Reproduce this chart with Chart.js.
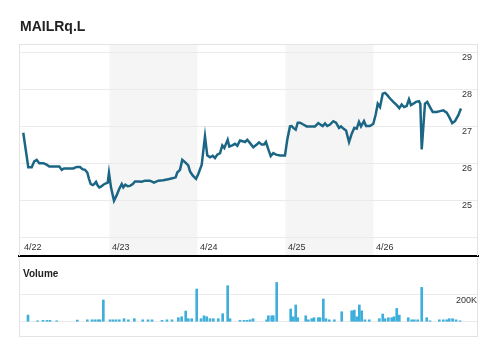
<!DOCTYPE html>
<html>
<head>
<meta charset="utf-8">
<script src="https://cdn.jsdelivr.net/npm/chart.js@4/dist/chart.umd.min.js"></script>
<style>
  html, body { margin: 0; padding: 0; background: #fff; }
  body { width: 498px; height: 353px; position: relative; overflow: hidden; font-family: "Liberation Sans", Arial, sans-serif; }
  #title { position: absolute; left: 20px; top: 19px; font-size: 14px; line-height: 14px; font-weight: bold; color: #222; }
  #vollabel { position: absolute; left: 23px; top: 269px; font-size: 10px; line-height: 10px; font-weight: bold; color: #222; }
  canvas { position: absolute; left: 0; display: block; }
  #price { top: 0; }
  #vol { top: 253px; }
</style>
</head>
<body>
<canvas id="price" width="498" height="260" style="width:498px;height:260px"></canvas>
<canvas id="vol" width="498" height="100" style="width:498px;height:100px"></canvas>
<div id="title">MAILRq.L</div>
<div id="vollabel">Volume</div>
<script>
// ---- Data (x = time in trading days since 4/22 open) ----
const dayLabels = ['4/22', '4/23', '4/24', '4/25', '4/26'];
const shadedDays = [1, 3];
const priceTicks = [24, 25, 26, 27, 28, 29];
const volumeTicks = [0, 200000];

const priceTimes = [0.020,0.077,0.116,0.145,0.173,0.202,0.248,0.286,0.316,0.361,0.430,0.457,0.483,0.551,0.589,0.627,0.665,0.691,0.722,0.748,0.767,0.786,0.809,0.827,0.847,0.866,0.884,0.903,0.930,0.960,0.980,0.994,
1.017,1.051,1.082,1.111,1.139,1.157,1.180,1.207,1.233,1.264,1.290,1.327,1.366,1.403,1.460,1.506,1.555,1.611,1.668,1.725,1.752,1.770,1.801,1.827,1.858,1.895,1.915,1.945,1.983,
2.009,2.048,2.085,2.111,2.142,2.173,2.199,2.225,2.256,2.282,2.305,2.320,2.343,2.361,2.395,2.426,2.452,2.483,2.514,2.540,2.566,2.597,2.634,2.673,2.699,2.730,2.756,2.778,2.805,2.832,2.861,2.892,2.938,2.994,
3.020,3.051,3.070,3.089,3.116,3.139,3.165,3.202,3.241,3.278,3.335,3.373,3.403,3.423,3.449,3.475,3.506,3.543,3.574,3.608,3.631,3.657,3.688,3.722,3.752,3.782,3.809,3.835,3.858,3.892,3.915,3.960,3.998,
4.025,4.048,4.074,4.105,4.131,4.157,4.188,4.225,4.264,4.293,4.320,4.347,4.377,4.403,4.426,4.452,4.483,4.517,4.532,4.548,4.585,4.611,4.642,4.673,4.718,4.756,4.793,4.832,4.861,4.895,4.926,4.964,4.994];

const priceValues = [26.83,25.90,25.90,26.06,26.10,26.01,26.01,25.97,25.92,25.92,25.92,25.83,25.87,25.87,25.87,25.91,25.91,25.85,25.83,25.76,25.59,25.45,25.42,25.45,25.51,25.41,25.36,25.38,25.43,25.47,25.49,25.75,
25.36,25.00,25.15,25.32,25.45,25.36,25.43,25.39,25.40,25.45,25.52,25.52,25.51,25.54,25.54,25.49,25.54,25.55,25.58,25.61,25.63,25.76,25.83,26.10,26.04,25.95,25.79,25.68,25.59,
25.72,25.97,26.73,26.22,26.17,26.21,26.15,26.24,26.28,26.49,26.42,26.51,26.64,26.46,26.49,26.53,26.48,26.62,26.60,26.58,26.64,26.55,26.44,26.51,26.57,26.51,26.51,26.58,26.38,26.20,26.28,26.24,26.22,26.22,
26.64,27.00,27.01,26.96,26.91,27.10,27.10,27.05,27.00,27.00,27.00,27.09,27.04,27.01,27.08,27.01,27.05,27.14,27.10,26.96,27.00,26.94,26.89,26.58,26.80,26.96,26.94,27.12,27.00,27.14,27.01,27.01,27.07,
27.32,27.61,27.52,27.88,27.90,27.84,27.75,27.66,27.57,27.49,27.59,27.52,27.55,27.73,27.57,27.61,27.66,27.68,27.61,26.38,27.61,27.66,27.52,27.39,27.39,27.41,27.43,27.37,27.25,27.09,27.14,27.30,27.48];

const volumeTimes = [0.074,0.184,0.244,0.290,0.324,0.400,0.634,0.748,0.801,0.835,0.869,0.892,0.930,
1.006,1.040,1.074,1.111,1.165,1.214,1.282,1.377,1.438,1.483,1.597,1.653,1.710,1.782,1.820,1.866,1.895,1.934,1.991,
2.040,2.074,2.105,2.142,2.180,2.236,2.286,2.343,2.369,2.483,2.528,2.563,2.597,2.631,2.786,2.805,2.843,2.861,2.900,
3.059,3.089,3.116,3.139,3.230,3.259,3.298,3.324,3.373,3.392,3.430,3.460,3.498,3.555,3.639,3.752,3.782,3.809,3.839,3.866,3.903,3.952,
4.066,4.105,4.131,4.169,4.207,4.233,4.264,4.293,4.395,4.434,4.464,4.502,4.548,4.605,4.642,4.748,4.793,4.832,4.861,4.899,4.938,4.983];

const volumeValues = [48000,7000,10000,10000,10000,7000,12000,14000,14000,14000,14000,14000,157000,
14000,14000,14000,14000,22000,14000,22000,14000,14000,14000,10000,14000,14000,29000,36000,77000,22000,22000,236000,
22000,43000,36000,22000,22000,22000,58000,260000,22000,10000,10000,10000,14000,22000,14000,43000,43000,43000,284000,
92000,36000,121000,29000,43000,14000,22000,29000,29000,29000,164000,22000,14000,14000,72000,79000,84000,36000,121000,79000,14000,14000,
22000,56000,22000,29000,29000,36000,96000,48000,29000,14000,14000,14000,248000,29000,7000,14000,14000,14000,22000,22000,14000,7000];

// ---- Styling ----
const LINE = '#1b6684';
const BAR = '#3eafdb';
const GRID = '#ebebeb';
const FRAME = '#e3e3e3';
const BAND = '#f5f5f5';
const TXT = '#333';
const FONT_FAMILY = '"Liberation Sans", Arial, sans-serif';
const FONT = { family: FONT_FAMILY, size: 9 };
const X_MIN = -0.0284, X_MAX = 5.1875;

const bandsPlugin = {
  id: 'bands',
  beforeDraw(chart) {
    const { ctx, chartArea: a, scales: { x } } = chart;
    ctx.save();
    ctx.fillStyle = BAND;
    shadedDays.forEach(d => {
      const l = x.getPixelForValue(d), r = x.getPixelForValue(d + 1);
      ctx.fillRect(l, a.top, r - l, a.bottom - a.top);
    });
    ctx.restore();
  }
};

// Day labels sit inside the plot, just above the bottom axis line, left-aligned at each day's tick.
const dayLabelPlugin = {
  id: 'dayLabels',
  afterDraw(chart) {
    const { ctx, chartArea: a, scales: { x } } = chart;
    ctx.save();
    ctx.fillStyle = TXT;
    ctx.font = '9px ' + FONT_FAMILY;
    ctx.textAlign = 'left';
    ctx.textBaseline = 'middle';
    x.ticks.forEach(t => {
      ctx.fillText(dayLabels[Math.round(t.value)], x.getPixelForValue(t.value) + 2.5, a.bottom - 8.5);
    });
    ctx.restore();
  }
};

function framePlugin(sides) {
  return {
    id: 'frame',
    afterDraw(chart) {
      const { ctx, chartArea: a } = chart;
      ctx.save();
      ctx.strokeStyle = FRAME;
      ctx.lineWidth = 1;
      ctx.beginPath();
      const L = Math.round(a.left) + 0.5, R = Math.round(a.right) - 0.5, T = Math.round(a.top) + 0.5, B = Math.round(a.bottom) - 0.5;
      if (sides.includes('left')) { ctx.moveTo(L, a.top); ctx.lineTo(L, a.bottom); }
      if (sides.includes('right')) { ctx.moveTo(R, a.top); ctx.lineTo(R, a.bottom); }
      if (sides.includes('top')) { ctx.moveTo(a.left, T); ctx.lineTo(a.right, T); }
      if (sides.includes('bottom')) { ctx.moveTo(a.left, B); ctx.lineTo(a.right, B); }
      ctx.stroke();
      ctx.restore();
    }
  };
}

new Chart(document.getElementById('price'), {
  type: 'line',
  data: {
    datasets: [{
      data: priceTimes.map((t, i) => ({ x: t, y: priceValues[i] })),
      borderColor: LINE,
      borderWidth: 2.5,
      pointRadius: 0,
      tension: 0,
      fill: false
    }]
  },
  options: {
    responsive: false,
    animation: false,
    devicePixelRatio: 1,
    layout: { padding: { left: 19, right: 20, top: 44, bottom: 4 } },
    plugins: { legend: { display: false }, tooltip: { enabled: false } },
    scales: {
      x: {
        type: 'linear', min: X_MIN, max: X_MAX,
        afterBuildTicks(s) { s.ticks = dayLabels.map((_, i) => ({ value: i })); },
        afterFit(s) { s.height = 0; },
        grid: { display: false, drawTicks: false },
        border: { display: true, color: '#000', width: 2 },
        ticks: { display: false }
      },
      y: {
        position: 'right', min: 23.514, max: 29.216,
        afterBuildTicks(s) { s.ticks = priceTicks.map(v => ({ value: v })); },
        afterFit(s) { s.width = 0; },
        grid: { color: GRID, drawTicks: false },
        border: { display: false },
        ticks: {
          mirror: true, crossAlign: 'near',
          padding: -6, labelOffset: 5, color: TXT, font: FONT,
          callback: (v) => v === 24 ? '' : String(v)
        }
      }
    }
  },
  plugins: [bandsPlugin, framePlugin(['left', 'right', 'top']), dayLabelPlugin]
});

new Chart(document.getElementById('vol'), {
  type: 'bar',
  data: {
    datasets: [{
      data: volumeTimes.map((t, i) => ({ x: t, y: volumeValues[i] })),
      backgroundColor: BAR,
      borderWidth: 0,
      barThickness: 2
    }]
  },
  options: {
    responsive: false,
    animation: false,
    devicePixelRatio: 1,
    layout: { padding: { left: 19, right: 20, top: 5, bottom: 16 } },
    plugins: { legend: { display: false }, tooltip: { enabled: false } },
    scales: {
      x: {
        type: 'linear', min: X_MIN, max: X_MAX, display: false,
        offset: false
      },
      y: {
        position: 'right', min: -110000, max: 460000,
        afterBuildTicks(s) { s.ticks = volumeTicks.map(v => ({ value: v })); },
        afterFit(s) { s.width = 0; },
        grid: { color: GRID, drawTicks: false },
        border: { display: false },
        ticks: {
          mirror: true, crossAlign: 'near',
          padding: -1, labelOffset: 6, color: TXT, font: FONT,
          callback: (v) => v === 200000 ? '200K' : ''
        }
      }
    }
  },
  plugins: [framePlugin(['left', 'right', 'bottom'])]
});
</script>
</body>
</html>
